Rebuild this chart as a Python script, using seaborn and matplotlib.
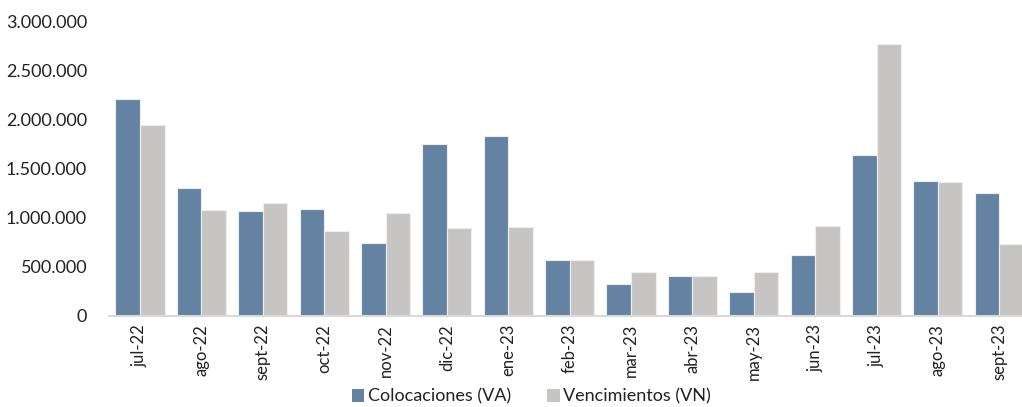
import matplotlib
matplotlib.use("Agg")
import matplotlib.pyplot as plt
import seaborn as sns
import pandas as pd
from matplotlib.ticker import FuncFormatter
from matplotlib.patches import Patch

meses = ["jul-22", "ago-22", "sept-22", "oct-22", "nov-22", "dic-22", "ene-23",
         "feb-23", "mar-23", "abr-23", "may-23", "jun-23", "jul-23", "ago-23", "sept-23"]
colocaciones = [2210000, 1300000, 1070000, 1090000, 740000, 1750000, 1833000,
                568000, 323000, 405000, 241000, 623000, 1645000, 1373000, 1250000]
vencimientos = [1950000, 1083000, 1150000, 865000, 1050000, 900000, 908000,
                568000, 443000, 400000, 443000, 920000, 2770000, 1363000, 732000]
series = ["Colocaciones (VA)", "Vencimientos (VN)"]
colores = ["#6483A2", "#C6C5C4"]

df = pd.DataFrame({"mes": meses * 2,
                   "valor": colocaciones + vencimientos,
                   "serie": [series[0]] * len(meses) + [series[1]] * len(meses)})

sns.set_style("white")
plt.rcParams["font.family"] = ["Lato", "DejaVu Sans"]

fig = plt.figure(figsize=(10.22, 4.07), dpi=100)
ax = fig.add_axes([0.107, 0.2245, 0.893, 0.7215])

sns.barplot(data=df, x="mes", y="valor", hue="serie", palette=colores, saturation=1,
            width=0.8, edgecolor="#EEEEEE", linewidth=0.8, ax=ax, legend=False)

ax.set_ylim(0, 3000000)
ax.set_xlim(-0.5, 14.37)
ax.set_yticks(range(0, 3000001, 500000))
ax.yaxis.set_major_formatter(FuncFormatter(lambda v, p: f"{int(v):,}".replace(",", ".")))
ax.set_xlabel("")
ax.set_ylabel("")
ax.tick_params(axis="y", labelsize=13, colors="#222222", length=0, pad=16)
ax.tick_params(axis="x", labelsize=12, colors="#222222", length=0, pad=6, rotation=90)

for s in ["top", "right", "left"]:
    ax.spines[s].set_visible(False)
ax.spines["bottom"].set_color("#D9D9D9")
ax.spines["bottom"].set_linewidth(1.5)

handles = [Patch(facecolor=c, edgecolor="none") for c in colores]
fig.legend(handles, series, loc="center", bbox_to_anchor=(0.52, 0.025), ncol=2,
           frameon=False, fontsize=13, handlelength=0.7, handleheight=0.7,
           handletextpad=0.2, columnspacing=2.0, labelcolor="#222222")

fig.savefig("out.png", dpi=100)
